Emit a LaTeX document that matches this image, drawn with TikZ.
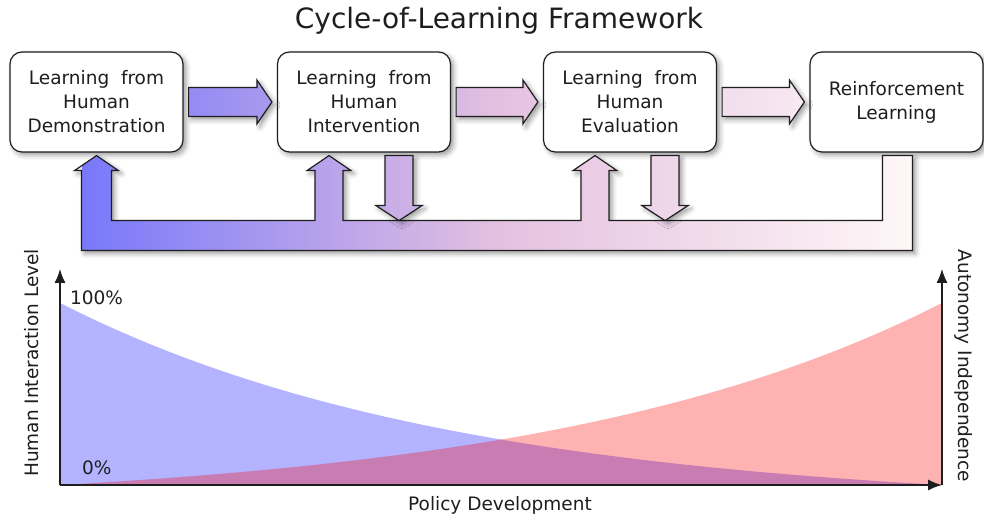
\documentclass[tikz,border=0pt]{standalone}
\usepackage{fontspec}
\setmainfont{DejaVu Sans}
\usetikzlibrary{arrows.meta,calc,shadows.blur}

\definecolor{cycA}{RGB}{120,120,250}
\definecolor{cycB}{RGB}{228,192,224}
\definecolor{cycC}{RGB}{254,247,247}
\definecolor{humanfill}{RGB}{179,179,255}
\definecolor{autofill}{RGB}{255,0,0}
\definecolor{ink}{RGB}{30,30,30}

\tikzset{
  softshadow/.style={blur shadow={shadow xshift=3pt, shadow yshift=-3pt, shadow blur radius=5pt, shadow opacity=40}},
  stage/.style={draw=ink, line width=1.2pt, fill=white, rounded corners=12pt, minimum width=173pt, minimum height=100pt, align=center, text=ink, font=\fontsize{18.5}{24}\selectfont, softshadow},
  lbl/.style={inner sep=0pt, text=ink, font=\fontsize{18.5}{24}\selectfont},
  chartaxis/.style={draw=ink, line width=1.3pt, -{Latex[length=14pt,width=11pt]}}
}

% fat arrow: shadow, gradient across the whole cycle, outline
\newcommand{\cycleshape}[1]{%
  \path[softshadow] #1;
  \begin{scope}
    \clip #1;
    \shade[left color=cycA, right color=cycC, middle color=cycB] (82,0) rectangle (913,260);
  \end{scope}
  \draw[draw=ink, line width=1.2pt] #1;
}

\begin{document}
\begin{tikzpicture}[x=1pt, y=-1pt]
  \useasboundingbox (0,0) rectangle (984,518);

  \node[lbl, font=\fontsize{28}{32}\selectfont] (title) at (499,21) {Cycle-of-Learning Framework};

  % the four learning stages
  \node[stage] (b1) at (96.5,102) {Learning\ \ from\\Human\\Demonstration};
  \node[stage] (b2) at (364,102) {Learning\ \ from\\Human\\Intervention};
  \node[stage] (b3) at (630,102) {Learning\ \ from\\Human\\Evaluation};
  \node[stage] (b4) at (896.5,102) {Reinforcement\\Learning};

  % feedback loop under the stages
  \cycleshape{($(b1.south)+(-15,98)$) -- ($(b1.south)+(-15,18)$) -- ($(b1.south)+(-22,18)$)
    -- ($(b1.south)+(0,3)$) -- ($(b1.south)+(22,18)$) -- ($(b1.south)+(15,18)$) -- ($(b1.south)+(15,68)$)
    \foreach \b in {b2,b3} {
      -- ($(\b.south)+(-49,68)$) -- ($(\b.south)+(-49,18)$) -- ($(\b.south)+(-57,18)$)
      -- ($(\b.south)+(-35,3)$) -- ($(\b.south)+(-13,18)$) -- ($(\b.south)+(-21,18)$) -- ($(\b.south)+(-21,68)$)
    }
    -- ($(b4.south)+(-14,68)$) -- ($(b4.south)+(-14,3)$) -- ($(b4.south)+(16,3)$) -- ($(b4.south)+(16,98)$) -- cycle}

  % drops from intervention and evaluation
  \foreach \b in {b2,b3}
    \cycleshape{($(\b.south)+(21,3)$) -- ($(\b.south)+(49,3)$) -- ($(\b.south)+(49,53)$) -- ($(\b.south)+(58,53)$)
      -- ($(\b.south)+(35,68)$) -- ($(\b.south)+(12,53)$) -- ($(\b.south)+(21,53)$) -- cycle};

  % arrows from stage to stage
  \foreach \a/\b in {b1/b2,b2/b3,b3/b4}
    \cycleshape{([xshift=5pt,yshift=14.5pt]\a.east) -- ([xshift=-20pt,yshift=14.5pt]\b.west) -- ([xshift=-20pt,yshift=22pt]\b.west)
      -- ([xshift=-5pt]\b.west) -- ([xshift=-20pt,yshift=-22pt]\b.west) -- ([xshift=-20pt,yshift=-14.5pt]\b.west)
      -- ([xshift=5pt,yshift=-14.5pt]\a.east) -- cycle};

  % chart
  \coordinate (o) at (60,485);
  \coordinate (ytop) at (60,269);
  \coordinate (xend) at (942,485);
  \coordinate (rtop) at (942,269);

  \fill[humanfill] (o) -- plot[domain=0:1, samples=80, variable=\t] ({60+882*\t},{485-182*(exp(-2.2*\t)-0.1108)/0.8892}) -- (xend) -- cycle;
  \fill[autofill, opacity=0.3] (o) -- plot[domain=0:1, samples=80, variable=\t] ({60+882*\t},{485-182*(exp(-2.2*(1-\t))-0.1108)/0.8892}) -- (xend) -- cycle;

  \draw[chartaxis] (o) -- (ytop);
  \draw[chartaxis] (o) -- (xend);
  \draw[chartaxis] (xend) -- (rtop);

  \node[lbl, anchor=west] (full) at (70,298) {100\%};
  \node[lbl, anchor=west] (none) at (82,468) {0\%};
  \node[lbl] (xlabel) at (500,505) {Policy Development};
  \node[lbl, rotate=90] (ylabel) at (32,363) {Human Interaction Level};
  \node[lbl, rotate=-90] (rlabel) at (964,366) {Autonomy Independence};
\end{tikzpicture}
\end{document}
